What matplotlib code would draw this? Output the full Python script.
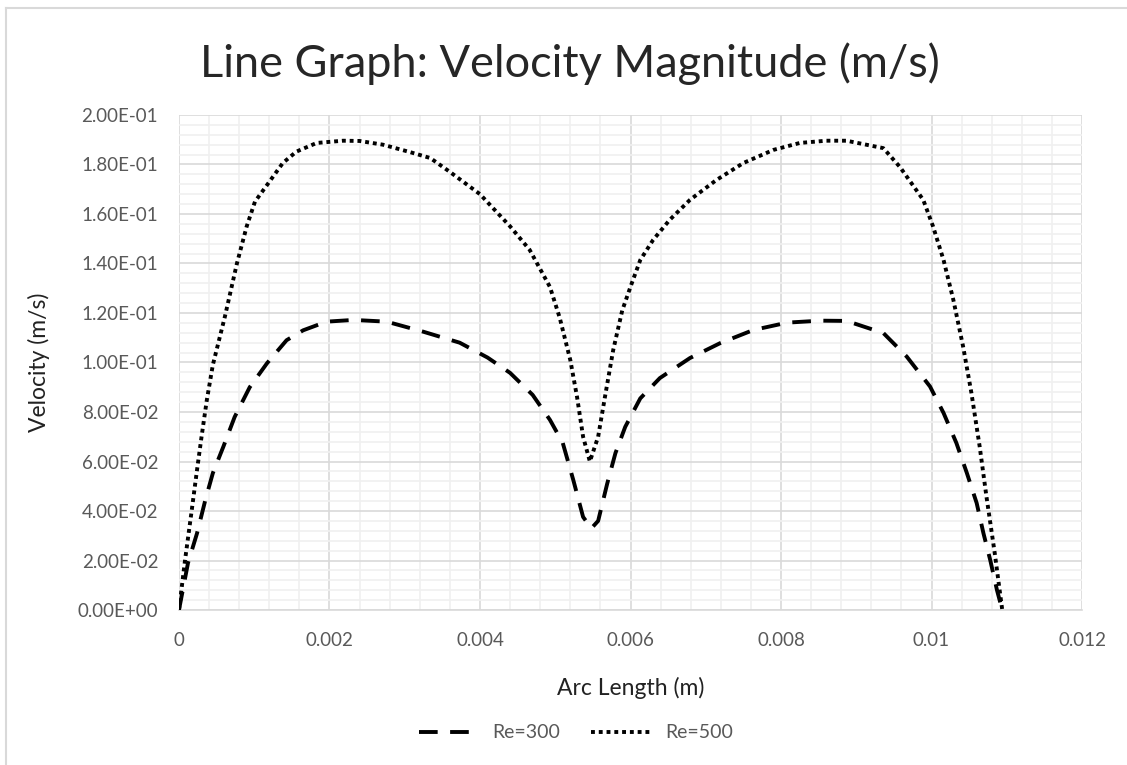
import numpy as np
import matplotlib.pyplot as plt
from matplotlib.ticker import MultipleLocator, FuncFormatter
from matplotlib.lines import Line2D

# Data: arc length (m) vs velocity magnitude (m/s)
re300_x = [0, 0.00012, 0.00024, 0.00035, 0.00045, 0.00059, 0.00074, 0.00094, 0.00117,
           0.00143, 0.00165, 0.00196, 0.00232, 0.00276, 0.00324, 0.00373, 0.0041, 0.0044,
           0.0047, 0.00493, 0.0051, 0.00524, 0.00537, 0.00548, 0.00557, 0.00569, 0.0058,
           0.00593, 0.00613, 0.00639, 0.00679, 0.00719, 0.00763, 0.00808, 0.00852, 0.00887,
           0.00936, 0.00967, 0.00998, 0.01016, 0.01033, 0.01047, 0.0106, 0.01069, 0.01078,
           0.01087, 0.01094]
re300_y = [0, 0.019, 0.031, 0.0444, 0.0553, 0.066, 0.078, 0.090, 0.0997,
           0.109, 0.113, 0.1165, 0.1172, 0.1165, 0.1125, 0.108, 0.102, 0.0958,
           0.0869, 0.0768, 0.0675, 0.0525, 0.0376, 0.033, 0.036, 0.051, 0.0634,
           0.074, 0.0855, 0.0937, 0.1018, 0.1078, 0.1131, 0.1161, 0.1169, 0.1168,
           0.1119, 0.1024, 0.0903, 0.0796, 0.0675, 0.0553, 0.0432, 0.031, 0.0202,
           0.008, 0.0]

re500_x = [0, 0.00008, 0.00017, 0.00024, 0.0003, 0.00037, 0.00045, 0.00061, 0.00077,
           0.0009, 0.00101, 0.00117, 0.00138, 0.00156, 0.00183, 0.00218, 0.0024, 0.00271,
           0.00307, 0.00334, 0.0036, 0.004, 0.0044, 0.00466, 0.00493, 0.00506, 0.0052,
           0.00529, 0.00537, 0.00546, 0.00557, 0.00566, 0.00577, 0.00589, 0.006, 0.00613,
           0.0063, 0.00652, 0.00679, 0.00714, 0.0075, 0.0079, 0.00825, 0.0086, 0.00887,
           0.00936, 0.00958, 0.00989, 0.01002, 0.01016, 0.01029, 0.01042, 0.01053, 0.01064,
           0.01073, 0.01084, 0.01094]
re500_y = [0, 0.020, 0.0404, 0.0566, 0.070, 0.0848, 0.0990, 0.1185, 0.140,
           0.155, 0.165, 0.1717, 0.1806, 0.1852, 0.1887, 0.1896, 0.1895, 0.188,
           0.185, 0.1826, 0.177, 0.168, 0.155, 0.1455, 0.1305, 0.118, 0.101,
           0.086, 0.070, 0.060, 0.070, 0.086, 0.105, 0.121, 0.1306, 0.1414,
           0.1495, 0.1576, 0.1657, 0.1737, 0.1806, 0.1859, 0.1887, 0.1896, 0.1896,
           0.1866, 0.179, 0.1657, 0.155, 0.1414, 0.1253, 0.1064, 0.0877, 0.066,
           0.0458, 0.023, 0.0]

series_labels = ['Re=300', 'Re=500']

plt.rcParams['font.family'] = ['Lato', 'DejaVu Sans']

fig = plt.figure(figsize=(11.27, 7.65), dpi=100)
ax = fig.add_axes([0.1588, 0.2026, 0.8013, 0.6471])

ax.plot(re300_x, re300_y, color='black', lw=2.8, linestyle=(0, (4.8, 3.2)),
        dash_capstyle='butt', label=series_labels[0], zorder=3)
ax.plot(re500_x, re500_y, color='black', lw=2.8, linestyle=(0, (1, 1)),
        dash_capstyle='butt', label=series_labels[1], zorder=3)

ax.set_xlim(0, 0.012)
ax.set_ylim(0, 0.2)
ax.xaxis.set_major_locator(MultipleLocator(0.002))
ax.xaxis.set_minor_locator(MultipleLocator(0.0004))
ax.yaxis.set_major_locator(MultipleLocator(0.02))
ax.yaxis.set_minor_locator(MultipleLocator(0.004))

def xfmt(v, pos):
    return '0' if abs(v) < 1e-12 else ('%g' % round(v, 6))

def yfmt(v, pos):
    s = '%.2E' % v
    mant, exp = s.split('E')
    return '%sE%s%s' % (mant, exp[0], exp[1:].zfill(2))

ax.xaxis.set_major_formatter(FuncFormatter(xfmt))
ax.yaxis.set_major_formatter(FuncFormatter(yfmt))

ax.grid(which='major', color='#d9d9d9', lw=1.2)
ax.grid(which='minor', color='#f0f0f0', lw=1.2)
ax.set_axisbelow(True)
for side in ['top', 'right', 'left']:
    ax.spines[side].set_visible(False)
ax.spines['bottom'].set_color('#d9d9d9')
ax.spines['bottom'].set_linewidth(1.2)
ax.tick_params(which='both', length=0)
ax.tick_params(axis='x', labelsize=13.5, labelcolor='#595959', pad=16)
ax.tick_params(axis='y', labelsize=13.5, labelcolor='#595959', pad=15)

ax.set_xlabel('Arc Length (m)', fontsize=16.5, color='#222222', labelpad=20)
ax.set_ylabel('Velocity (m/s)', fontsize=16.5, color='#222222', labelpad=20)
fig.suptitle('Line Graph: Velocity Magnitude (m/s)', fontsize=32.5, x=0.506, y=0.945,
             color='#262626')

fig.legend(loc='center', bbox_to_anchor=(0.511, 0.042), ncol=2, frameon=False,
           fontsize=14, handlelength=3.0, handletextpad=0.8, columnspacing=1.6,
           labelcolor='#595959')

# Light frame lines of the chart area
fig.add_artist(Line2D([0.005, 0.005], [0, 0.99], transform=fig.transFigure,
                      color='#d9d9d9', lw=1.5))
fig.add_artist(Line2D([0.005, 1.0], [0.99, 0.99], transform=fig.transFigure,
                      color='#d9d9d9', lw=1.5))

fig.savefig('out.png', dpi=100)
